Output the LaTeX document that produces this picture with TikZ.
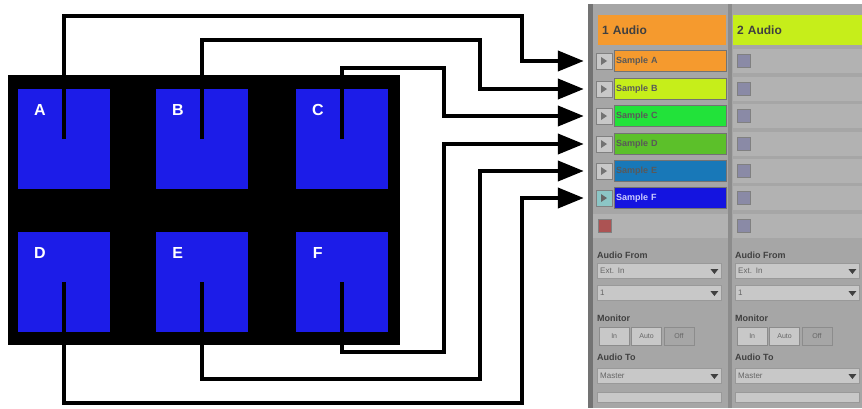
\documentclass[tikz,border=0pt]{standalone}
\usepackage{fontspec}
\setmainfont{Liberation Sans}
\usetikzlibrary{positioning, arrows.meta, calc}

\definecolor{padblue}{HTML}{1C1CE8}
\definecolor{panelgray}{HTML}{A6A6A6}
\definecolor{rowgray}{HTML}{B2B2B2}
\definecolor{boxgray}{HTML}{C8C8C8}
\definecolor{clipA}{HTML}{F59A2E}
\definecolor{clipB}{HTML}{C6EE1A}
\definecolor{clipC}{HTML}{22E23A}
\definecolor{clipD}{HTML}{5CC02A}
\definecolor{clipE}{HTML}{1878B8}
\definecolor{clipF}{HTML}{1414E0}
\definecolor{stopgray}{HTML}{8A8AA6}

\begin{document}
\begin{tikzpicture}[x=1pt, y=-1pt,
  pad/.style={fill=padblue, minimum width=92pt, minimum height=100pt, inner sep=0pt},
  padlabel/.style={text=white, font=\bfseries\fontsize{16}{16}\selectfont},
  track/.style={anchor=west, minimum height=30pt, inner xsep=4pt, inner ysep=0pt, align=left, font=\bfseries\fontsize{12}{12}\selectfont, text=black!75},
  slot/.style={draw=black!55, anchor=west, minimum width=112pt, minimum height=21pt, inner xsep=2pt, inner ysep=0pt, text width=108pt, align=left, font=\bfseries\fontsize{9}{9}\selectfont, text=black!65},
  playbtn/.style={draw=black!50, fill=boxgray, minimum width=16pt, minimum height=16pt, inner sep=0pt},
  stopbtn/.style={draw=black!50, fill=stopgray, minimum width=13pt, minimum height=13pt, inner sep=0pt},
  heading/.style={anchor=west, inner sep=0pt, font=\bfseries\fontsize{9}{9}\selectfont, text=black!75},
  dropbox/.style={draw=black!40, fill=boxgray, anchor=west, minimum height=15pt, inner xsep=3pt, inner ysep=0pt, text width=118pt, align=left, font=\fontsize{8}{8}\selectfont, text=black!60},
  modebtn/.style={draw=black!45, fill=boxgray, minimum width=30pt, minimum height=18pt, inner sep=0pt, font=\fontsize{7}{7}\selectfont, text=black!60},
  wire/.style={line width=4pt, shorten >=12pt, -{Triangle[length=26pt, width=20pt]}}]

\useasboundingbox (0,0) rectangle (862,408);

% pad controller
\fill[black] (8,75) rectangle (400,345);
\node[pad] (padA) at (64,139) {};
\node[pad] (padB) at (202,139) {};
\node[pad] (padC) at (342,139) {};
\node[pad] (padD) at (64,282) {};
\node[pad] (padE) at (202,282) {};
\node[pad] (padF) at (342,282) {};
\foreach \n in {A,B,C,D,E,F}
  \node[padlabel] (lab\n) at ([shift={(22,21)}]pad\n.north west) {\n};

% clip panel
\fill[panelgray] (588,4) rectangle (862,408);
\fill[black!55] (588,4) rectangle (593,408);
\fill[black!45] (728,4) rectangle (732,408);
\node[track, fill=clipA, text width=120pt] (trk1) at (598,30) {1 Audio};
\node[track, fill=clipB, text width=121pt] (trk2) at (733,30) {2 Audio};

\foreach \n/\y in {A/61, B/89, C/116, D/144, E/171, F/198} {
  \fill[rowgray] (733,\y-12) rectangle (862,\y+12);
  \node[playbtn] (btn\n) at (604,\y) {};
  \fill[black!55] ($(btn\n)+(-3,-4)$) -- ++(0,8) -- ++(6,-4) -- cycle;
  \node[slot, fill=clip\n] (clip\n) at (614,\y) {Sample \n};
  \node[stopbtn] (stop\n) at (744,\y) {};
}
\node[playbtn, fill=teal!45] at (btnF) {};
\fill[black!60] ($(btnF)+(-3,-4)$) -- ++(0,8) -- ++(6,-4) -- cycle;
\node[slot, fill=clipF, text=white!80!blue] at (614,198) {Sample F};

% empty slot row
\fill[rowgray] (593,214) rectangle (728,238);
\fill[rowgray] (733,214) rectangle (862,238);
\node[stopbtn, fill=red!35!gray] (stopG1) at (605,226) {};
\node[stopbtn] (stopG2) at (744,226) {};

% io section, both tracks
\foreach \x/\m in {597/1, 735/2} {
  \node[heading] (from\m) at (\x,255) {Audio From};
  \node[dropbox] (ext\m) at (\x,271) {Ext. In};
  \node[dropbox] (chan\m) at (\x,293) {1};
  \node[heading] (mon\m) at (\x,318) {Monitor};
  \node[modebtn, anchor=west] (in\m) at (\x+2,336) {In};
  \node[modebtn, right=2pt of in\m] (auto\m) {Auto};
  \node[modebtn, right=2pt of auto\m, fill=black!35] (off\m) {Off};
  \node[heading] (to\m) at (\x,357) {Audio To};
  \node[dropbox] (out\m) at (\x,376) {Master};
  \node[dropbox, minimum height=10pt] (sub\m) at (\x,397) {};
  \foreach \b in {ext\m, chan\m, out\m}
    \fill[black!75] ($(\b.east)+(-11,-2)$) -- ++(8,0) -- ++(-4,5) -- cycle;
}

% pad to clip routing
\draw[wire] (padA.center) |- (522,16) |- (btnA.west);
\draw[wire] (padB.center) |- (480,40) |- (btnB.west);
\draw[wire] (padC.center) |- (444,68) |- (btnC.west);
\draw[wire] (padD.center) |- (522,403) |- (btnF.west);
\draw[wire] (padE.center) |- (480,379) |- (btnE.west);
\draw[wire] (padF.center) |- (444,352) |- (btnD.west);
\end{tikzpicture}
\end{document}
